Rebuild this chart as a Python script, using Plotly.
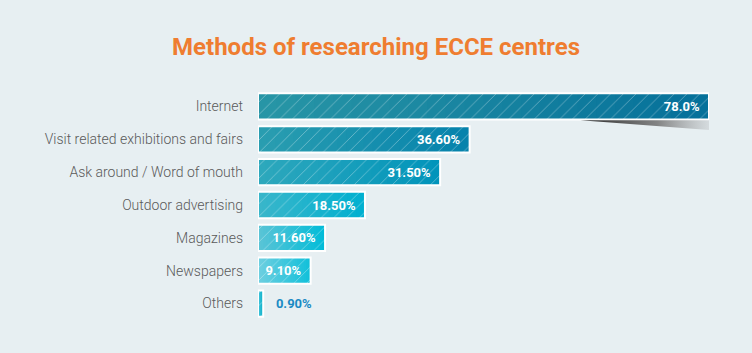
import plotly.graph_objects as go

categories = ["Internet", "Visit related exhibitions and fairs", "Ask around / Word of mouth",
              "Outdoor advertising", "Magazines", "Newspapers", "Others"]
values = [78.0, 36.6, 31.5, 18.5, 11.6, 9.1, 0.9]
value_labels = ["78.0%", "36.60%", "31.50%", "18.50%", "11.60%", "9.10%", "0.90%"]

left_colors = ["#2896a6", "#2a9eb0", "#2ea8bc", "#3ab6ca", "#5cc4d6", "#6fcfe0", "#40c2d8"]
right_colors = ["#05709a", "#0582ac", "#0094bb", "#00b0d0", "#00bcd8", "#10c0da", "#10b4cc"]

BG = "#e7eff2"
N = 24


def hex2rgb(h):
    h = h.lstrip("#")
    return tuple(int(h[i:i + 2], 16) for i in (0, 2, 4))


def mix(a, b, t):
    ca, cb = hex2rgb(a), hex2rgb(b)
    return "rgb(%d,%d,%d)" % tuple(round(ca[i] + (cb[i] - ca[i]) * t) for i in range(3))


ypos = list(range(len(categories)))
fig = go.Figure()

# shadow under top bar
shadow_x = [values[0] * 0.715, values[0], values[0], values[0] * 0.715]
shadow_y = [0.42, 0.42, 0.72, 0.42]
fig.add_trace(go.Scatter(x=shadow_x, y=shadow_y, mode="lines", fill="toself",
                         line=dict(width=0, color="rgba(0,0,0,0)"),
                         fillgradient=dict(type="horizontal",
                                           colorscale=[[0, "rgba(40,40,40,1)"], [0.6, "rgba(120,120,120,0.9)"],
                                                       [1, "rgba(200,205,208,0.6)"]]),
                         hoverinfo="skip", showlegend=False))

# gradient layers
for k in range(N, 0, -1):
    t = (k - 0.5) / N
    fig.add_trace(go.Bar(
        y=ypos, x=[v * k / N for v in values], orientation="h", width=0.8,
        marker=dict(color=[mix(l, r, t) for l, r in zip(left_colors, right_colors)], line=dict(width=0)),
        hoverinfo="skip", showlegend=False))

# hatch + border + labels
fig.add_trace(go.Bar(
    y=ypos, x=values, orientation="h", width=0.8,
    marker=dict(color="rgba(0,0,0,0)", line=dict(width=2, color="white"),
                pattern=dict(shape="/", fgcolor="white", fgopacity=0.35, size=9, solidity=0.1,
                             fillmode="replace", bgcolor="rgba(0,0,0,0)")),
    text=value_labels,
    texttemplate=["%{text}\u00a0\u00a0"] * 6 + ["\u00a0\u00a0\u00a0%{text}"],
    textposition=["inside"] * 6 + ["outside"],
    insidetextanchor="end", constraintext="none", cliponaxis=False,
    textfont=dict(family="Roboto", size=13, weight="bold",
                  color=["white"] * 6 + ["#1a8ac4"]),
    showlegend=False))

fig.update_layout(
    width=752, height=353, barmode="overlay",
    paper_bgcolor=BG, plot_bgcolor=BG,
    margin=dict(l=258, r=43, t=89.5, b=32.5),
    title=dict(text="<b>Methods of researching ECCE centres</b>", x=0.5, xanchor="center",
               y=1 - 47 / 353, yanchor="middle",
               font=dict(family="Roboto", size=24, color="#ef7d30")),
    xaxis=dict(range=[0, 78], visible=False, fixedrange=True),
    yaxis=dict(tickvals=ypos, ticktext=categories, range=[6.5, -0.5],
               showgrid=False, zeroline=False, showline=False, ticks="",
               ticklabelstandoff=14,
               tickfont=dict(family="Roboto", size=14, color="#5a5a5a", weight=300)),
    font=dict(family="Roboto"),
)

fig.write_html("out.html")
